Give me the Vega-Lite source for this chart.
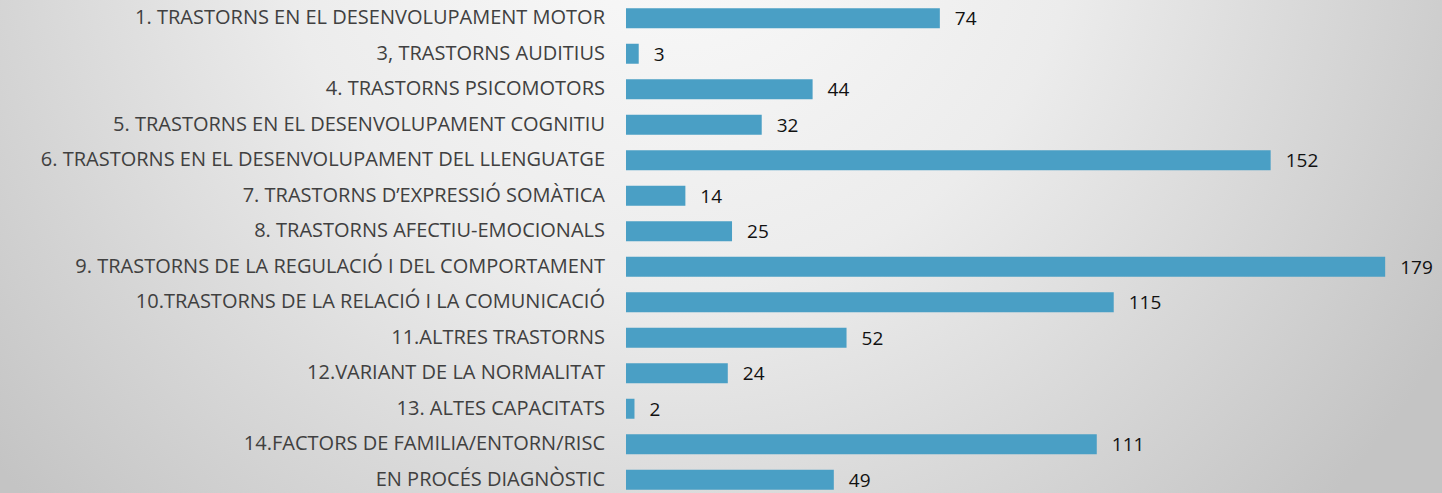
{
  "$schema": "https://vega.github.io/schema/vega-lite/v6.json",
  "width": 1442,
  "height": 493,
  "autosize": "none",
  "padding": 0,
  "background": "#e6e6e6",
  "config": {
    "view": {
      "stroke": null,
      "fill": {"gradient": "radial", "x1": 0.47, "y1": 0.25, "r1": 0, "x2": 0.47, "y2": 0.25, "r2": 0.62,
        "stops": [{"offset": 0, "color": "#fbfbfb"}, {"offset": 0.45, "color": "#ececec"}, {"offset": 1, "color": "#c4c4c4"}]}
    }
  },
  "data": {
    "values": [
      {"cat": "1. TRASTORNS EN EL DESENVOLUPAMENT MOTOR", "value": 74},
      {"cat": "3, TRASTORNS AUDITIUS", "value": 3},
      {"cat": "4. TRASTORNS PSICOMOTORS\u00a0", "value": 44},
      {"cat": "5. TRASTORNS EN EL DESENVOLUPAMENT COGNITIU\u00a0", "value": 32},
      {"cat": "6. TRASTORNS EN EL DESENVOLUPAMENT DEL LLENGUATGE", "value": 152},
      {"cat": "7. TRASTORNS D’EXPRESSIÓ SOMÀTICA\u00a0", "value": 14},
      {"cat": "8. TRASTORNS AFECTIU-EMOCIONALS", "value": 25},
      {"cat": "9. TRASTORNS DE LA REGULACIÓ I DEL COMPORTAMENT", "value": 179},
      {"cat": "10.TRASTORNS DE LA RELACIÓ I LA COMUNICACIÓ", "value": 115},
      {"cat": "11.ALTRES TRASTORNS", "value": 52},
      {"cat": "12.VARIANT DE LA NORMALITAT\u00a0", "value": 24},
      {"cat": "13. ALTES CAPACITATS", "value": 2},
      {"cat": "14.FACTORS DE FAMILIA/ENTORN/RISC", "value": 111},
      {"cat": "EN PROCÉS DIAGNÒSTIC", "value": 49}
    ]
  },
  "encoding": {
    "y": {"field": "cat", "type": "nominal", "sort": null, "axis": null,
      "scale": {"range": [2.5, 495.5], "paddingInner": 0.437, "paddingOuter": 0.162}}
  },
  "layer": [
    {
      "mark": {"type": "bar", "color": "#4a9fc5"},
      "encoding": {
        "x": {"field": "value", "type": "quantitative", "axis": null,
          "scale": {"domain": [-147.6, 192.4], "nice": false, "zero": false}}
      }
    },
    {
      "mark": {"type": "text", "align": "left", "baseline": "middle", "dx": 15, "dy": 1, "font": "Open Sans", "fontSize": 19, "color": "#111111"},
      "encoding": {
        "x": {"field": "value", "type": "quantitative"},
        "text": {"field": "value", "type": "quantitative"}
      }
    },
    {
      "mark": {"type": "text", "align": "right", "baseline": "middle", "dx": -21, "font": "Open Sans", "fontSize": 20, "color": "#404040"},
      "encoding": {
        "x": {"datum": 0, "type": "quantitative"},
        "text": {"field": "cat", "type": "nominal"}
      }
    }
  ]
}
